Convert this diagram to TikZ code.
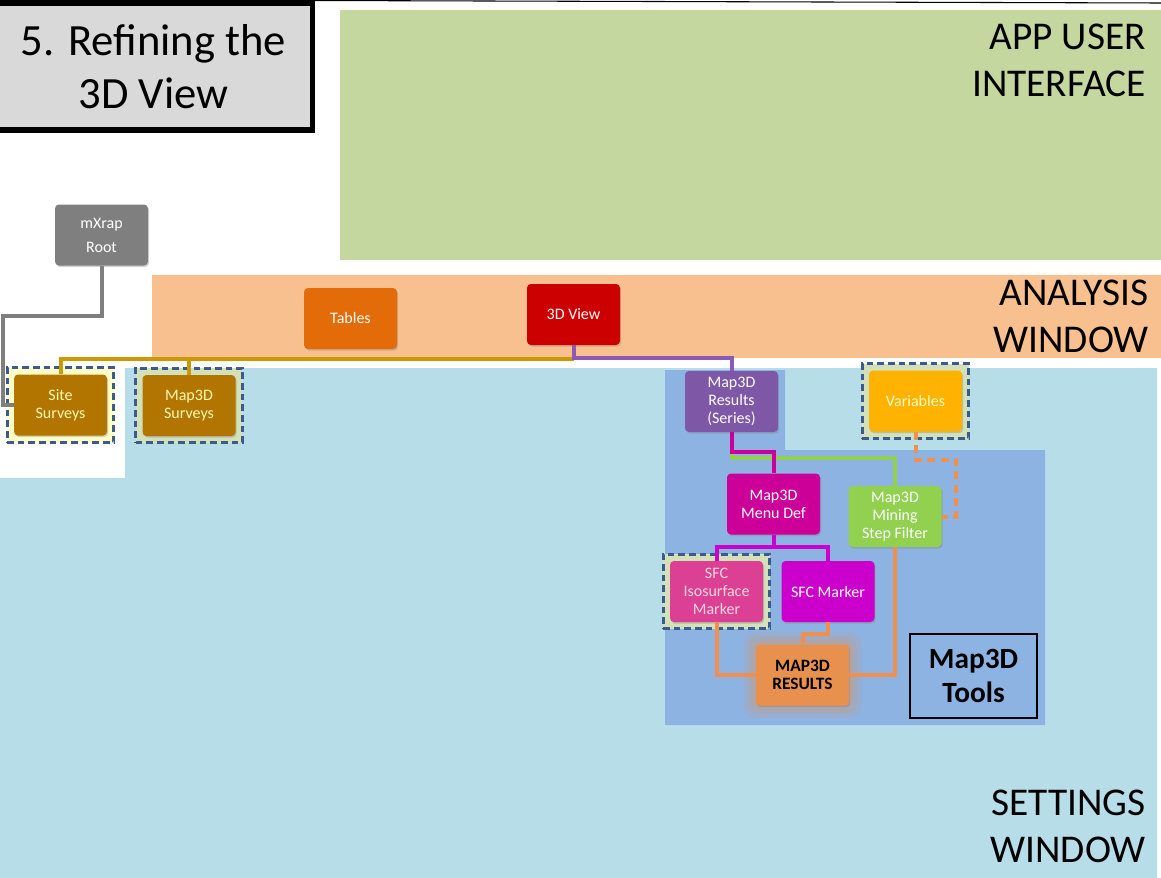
\documentclass[tikz,border=0pt]{standalone}
\usepackage{fontspec}
\setmainfont{Carlito}
\usetikzlibrary{positioning,fit,shadows,backgrounds}
\definecolor{uicolor}{HTML}{C4D79F}
\definecolor{ancolor}{HTML}{F9C08F}
\definecolor{setcolor}{HTML}{B7DDE8}
\definecolor{toolcolor}{HTML}{8DB3E2}
\definecolor{rootcolor}{HTML}{7F7F7F}
\definecolor{tabcolor}{HTML}{E36C09}
\definecolor{viewcolor}{HTML}{CC0000}
\definecolor{survcolor}{HTML}{B27600}
\definecolor{goldline}{HTML}{CC9A00}
\definecolor{rescolor}{HTML}{7E58A6}
\definecolor{purpline}{HTML}{7030A0}
\definecolor{varcolor}{HTML}{FFB300}
\definecolor{menucolor}{HTML}{CC0099}
\definecolor{filtcolor}{HTML}{92D050}
\definecolor{isocolor}{HTML}{DB4095}
\definecolor{markcolor}{HTML}{CC00CC}
\definecolor{mrescolor}{HTML}{E8914F}
\definecolor{orangeline}{HTML}{F09050}
\definecolor{dashblue}{HTML}{3A5B8C}
\definecolor{hiyellow}{HTML}{FFFFC8}
\definecolor{higreen}{HTML}{D3E0B8}

\begin{document}
\begin{tikzpicture}[
  x=0.75pt, y=-0.75pt,
  box/.style={rounded corners=3pt, minimum width=69.75pt, minimum height=45.75pt, inner sep=2pt, align=center, text=white, font=\fontsize{12}{13.5}\selectfont, drop shadow={opacity=0.35, shadow xshift=0.8pt, shadow yshift=-1.2pt}},
  hilite/.style={draw=dashblue, line width=2.2pt, dash pattern=on 5pt off 3pt, inner sep=5pt},
  band/.style={font=\fontsize{29.5}{35}\selectfont, align=right, anchor=north east, inner sep=0pt},
  link/.style={line width=3pt},
]
  \useasboundingbox (0,0) rectangle (1161,878);

  % Title
  \node[draw, line width=4pt, fill=black!15, minimum width=238pt, minimum height=95pt, align=center, font=\fontsize{33.5}{40}\selectfont] (title) at (153.5,66.5) {5. Refining the\\3D View};
  \coordinate (topright) at (1161,3);
  \draw[line width=0.8pt] (title.north east) -- (topright);

  % Nodes
  \node[box, fill=rootcolor, font=\fontsize{12}{18}\selectfont] (root) at (101.5,235) {mXrap\\Root};
  \node[box, fill=tabcolor] (tables) at (350.5,318.5) {Tables};
  \node[box, fill=viewcolor] (view3d) at (573.5,314.5) {3D View};
  \node[box, fill=survcolor, text=yellow!30] (site) at (60.5,405) {Site\\Surveys};
  \node[box, fill=survcolor, text=yellow!30] (msurv) at (189,405.5) {Map3D\\Surveys};
  \node[box, fill=rescolor] (results) at (731.5,401.5) {Map3D\\Results\\(Series)};
  \node[box, fill=varcolor, text=yellow!25] (vars) at (915.5,401) {Variables};
  \node[box, fill=menucolor] (menu) at (773.5,504) {Map3D\\Menu Def};
  \node[box, fill=filtcolor] (filter) at (895,516.5) {Map3D\\Mining\\Step Filter};
  \node[box, fill=isocolor, text=pink!60] (iso) at (716.5,591.5) {SFC\\Isosurface\\Marker};
  \node[box, fill=markcolor] (marker) at (828,591.5) {SFC Marker};
  \node[box, fill=mrescolor, text=black, font=\fontsize{13}{13.5}\selectfont\bfseries] (mres) at (802.5,675) {MAP3D\\RESULTS};
  \node[draw, line width=1.5pt, minimum width=95pt, minimum height=63pt, align=center, font=\fontsize{22}{25}\selectfont\bfseries] (tools) at (973.5,676) {Map3D\\Tools};

  % Window labels
  \node[band] (uilabel) at (1146,24) {APP USER\\INTERFACE};
  \node[band] (anlabel) at (1149,280) {ANALYSIS\\WINDOW};
  \node[band] (setlabel) at (1146,790) {SETTINGS\\WINDOW};

  % Windows and highlights
  \begin{scope}[on background layer]
    \fill[uicolor] (340,10) rectangle (1161,260);
    \fill[ancolor] (152,275) rectangle (1161,358);
    \fill[setcolor] (0,478) -- (125,478) -- (125,368) -- (1157,368) -- (1157,878) -- (0,878) -- cycle;
    \fill[toolcolor] (665,370) -- (785,370) -- (785,450) -- (1045,450) -- (1045,725) -- (665,725) -- cycle;
    \node[hilite, fill=hiyellow, fit=(site)] (sitebox) {};
    \node[hilite, fill=higreen, fit=(msurv)] (msurvbox) {};
    \node[hilite, fill=higreen, fit=(vars)] (varsbox) {};
    \node[hilite, fill=higreen, fit=(iso)] (isobox) {};
    \foreach \g/\o in {12/0.12,8/0.15,4/0.2}
      \fill[mrescolor, opacity=\o, rounded corners=8] ([shift={(-\g,\g)}]mres.south west) rectangle ([shift={(\g,-\g)}]mres.north east);
  \end{scope}

  % Edges
  \coordinate (gturn) at (3,316);
  \coordinate (vsplit) at (573.5,359);
  \coordinate (vturn) at (956,460);
  \draw[link, rootcolor] (root.south) |- (gturn) |- (site.west);
  \draw[link, goldline] (vsplit) -| (site.north);
  \draw[link, goldline] (vsplit) -| (msurv.north);
  \draw[link, purpline!80] (view3d.south) -- ++(0,13) -| (results.north);
  \draw[link, filtcolor] (results.south) -- ++(0,26) -| (filter.north);
  \draw[link, menucolor] (results.south) -- ++(0,20) -| (menu.north);
  \draw[link, markcolor] (menu.south) -- ++(0,12) -| (iso.north);
  \draw[link, markcolor] (menu.south) -- ++(0,12) -| (marker.north);
  \draw[link, orangeline, dash pattern=on 6pt off 4pt] (vars.south) |- (vturn) |- (filter.east);
  \draw[link, orangeline] (iso.south) |- (mres.west);
  \draw[link, orangeline] (filter.south) |- (mres.east);
  \draw[link, orangeline] (marker.south) -- ++(0,12) -| (mres.north);
\end{tikzpicture}
\end{document}
